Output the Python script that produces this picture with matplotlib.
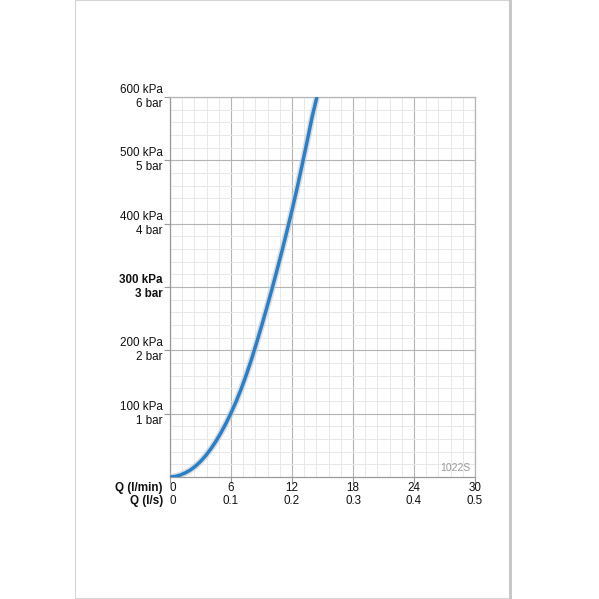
import matplotlib
matplotlib.use('Agg')
import matplotlib.pyplot as plt
from matplotlib.patches import Rectangle
from matplotlib.ticker import MultipleLocator

# flow (l/min) vs pressure loss (kPa)
flow_lmin = [0, 0.5, 1, 1.5, 2, 2.5, 3, 3.5, 4, 4.5, 5, 5.5, 6, 6.5, 7, 7.5, 8,
             8.5, 9, 9.5, 10, 10.5, 11, 11.5, 12, 12.5, 13, 13.5, 14, 14.45]
pressure_kpa = [0, 0.8, 3, 6.5, 11, 17, 24.5, 33.5, 44, 56, 69.5, 84.5, 101, 119,
                139, 161, 185, 211, 238, 266, 295, 325, 356, 388, 421, 456,
                493, 531, 570, 600]

x_ticks = [0, 6, 12, 18, 24, 30]
x_labels_lmin = ['0', '6', '12', '18', '24', '30']
x_labels_ls = ['0', '0.1', '0.2', '0.3', '0.4', '0.5']
y_ticks = [100, 200, 300, 400, 500, 600]
y_labels = ['100 kPa\n1 bar', '200 kPa\n2 bar', '300 kPa\n3 bar',
            '400 kPa\n4 bar', '500 kPa\n5 bar', '600 kPa\n6 bar']
code = '1022S'

plt.rcParams['font.family'] = ['Liberation Sans', 'DejaVu Sans']

fig = plt.figure(figsize=(5.99, 5.99), dpi=100)
W = H = 599.0

# page frame with a little shadow on the right
fig.patches.append(Rectangle((75 / W, 1 / H), 434 / W, 598 / H, transform=fig.transFigure,
                             facecolor='white', edgecolor='#d6d6d6', lw=0.8, zorder=-2))
fig.patches.append(Rectangle((509 / W, 0), 3 / W, 1, transform=fig.transFigure,
                             facecolor='#c8c8c8', edgecolor='none', zorder=-2))

ax = fig.add_axes([170 / W, (599 - 477) / H, 305 / W, 380 / H])
ax.set_zorder(2)
ax.set_xlim(0, 30)
ax.set_ylim(0, 600)

ax.xaxis.set_minor_locator(MultipleLocator(1.2))
ax.yaxis.set_minor_locator(MultipleLocator(20))
ax.grid(which='minor', color='#e8e8e8', lw=0.7)
ax.grid(which='major', color='#b4b4b4', lw=0.8)
ax.set_axisbelow(True)

for s in ax.spines.values():
    s.set_color('#9a9a9a')
    s.set_linewidth(0.9)
for s in ['top', 'right']:
    ax.spines[s].set_color('#b4b4b4')

# the curve, with a soft gray halo under it
ax.plot(flow_lmin, pressure_kpa, color='#c9c9c9', lw=4.8, alpha=0.6,
        solid_capstyle='round', solid_joinstyle='round', zorder=3)
ax.plot(flow_lmin, pressure_kpa, color='#2a7fc9', lw=2.5,
        solid_capstyle='round', solid_joinstyle='round', zorder=4)

ax.set_xticks(x_ticks)
ax.set_xticklabels([''] * len(x_ticks))
ax.set_yticks(y_ticks)
ax.set_yticklabels([''] * len(y_ticks))
ax.tick_params(which='major', length=4, color='#9a9a9a', width=0.8)
ax.tick_params(which='minor', length=0)

fs = 8.4
# y labels, 300 kPa in bold
for y, lab in zip(y_ticks, y_labels):
    ax.text(-0.7, y, lab, ha='right', va='center', fontsize=fs, linespacing=1.25,
            fontweight='bold' if y == 300 else 'normal', color='#111111')

# two rows of x labels
for x, a, b in zip(x_ticks, x_labels_lmin, x_labels_ls):
    xx = x + 0.25 if x == 0 else x
    ax.text(xx, -17, a, ha='center', va='center', fontsize=fs, color='#111111')
    ax.text(xx, -38, b, ha='center', va='center', fontsize=fs, color='#111111')
ax.text(-0.7, -17, 'Q (l/min)', ha='right', va='center', fontsize=fs,
        fontweight='bold', color='#111111')
ax.text(-0.7, -38, 'Q (l/s)', ha='right', va='center', fontsize=fs,
        fontweight='bold', color='#111111')

ax.text(29.6, 14, code, ha='right', va='center', fontsize=7.5, color='#9a9a9a')

fig.savefig('out.png', dpi=100, facecolor='white')
